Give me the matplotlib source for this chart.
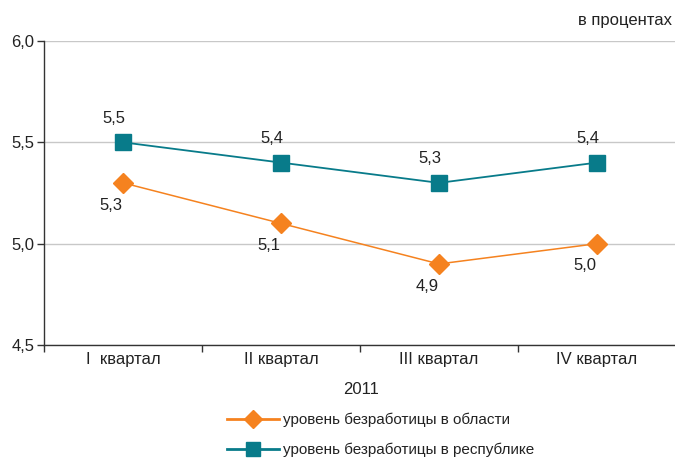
import matplotlib
matplotlib.use("Agg")
import matplotlib.pyplot as plt
from matplotlib.lines import Line2D

plt.rcParams["font.family"] = ["Liberation Sans", "DejaVu Sans"]

categories = ["I  квартал", "II квартал", "III квартал", "IV квартал"]
region = [5.3, 5.1, 4.9, 5.0]
republic = [5.5, 5.4, 5.3, 5.4]
region_name = "уровень безработицы в области"
republic_name = "уровень безработицы в республике"

orange = "#f5821f"
teal = "#087b8a"
text_color = "#222222"

W, H = 675, 459
fig = plt.figure(figsize=(W / 100, H / 100), dpi=100)
ax = fig.add_axes([44 / W, 1 - 345 / H, (676 - 44) / W, (345 - 41) / H])

x = list(range(len(categories)))
ax.plot(x, region, color=orange, lw=1.1, marker="D", ms=10, mec=orange, mfc=orange, zorder=3)
ax.plot(x, republic, color=teal, lw=1.3, marker="s", ms=11, mec=teal, mfc=teal, zorder=3)

fmt = lambda v: f"{v:.1f}".replace(".", ",")
for xi, v in zip(x, republic):
    ax.annotate(fmt(v), (xi, v), xytext=(-6.5, 17.5), textcoords="offset points",
                ha="center", va="center", fontsize=12, color=text_color)
for xi, v in zip(x, region):
    ax.annotate(fmt(v), (xi, v), xytext=(-8.5, -16), textcoords="offset points",
                ha="center", va="center", fontsize=12, color=text_color)

ax.set_xlim(-0.5, len(categories) - 0.5)
ax.set_ylim(4.5, 6.0)
ax.set_yticks([4.5, 5.0, 5.5, 6.0])
ax.set_yticklabels([fmt(v) for v in [4.5, 5.0, 5.5, 6.0]], fontsize=12, color=text_color)
ax.yaxis.grid(True, color="#c8c8c8", lw=1.0)
ax.set_axisbelow(True)

ax.set_xticks(x)
ax.set_xticklabels(categories, fontsize=12, color=text_color)
ax.tick_params(axis="x", length=0, pad=5)
ax.set_xticks([i - 0.5 for i in range(len(categories) + 1)], minor=True)
ax.tick_params(axis="x", which="minor", length=5, color="#333333", width=1)
ax.tick_params(axis="y", length=5, color="#333333", width=1, pad=2)

for s in ["top", "right"]:
    ax.spines[s].set_visible(False)
for s in ["left", "bottom"]:
    ax.spines[s].set_color("#333333")
    ax.spines[s].set_linewidth(1.0)

fig.text(672 / W, 1 - 20 / H, "в процентах", ha="right", va="center",
         fontsize=12, color=text_color)
fig.text(361 / W, 1 - 390 / H, "2011", ha="center", va="center",
         fontsize=12, color=text_color)

handles = [
    Line2D([], [], color=orange, lw=2, marker="D", ms=9, mec=orange, mfc=orange),
    Line2D([], [], color=teal, lw=2, marker="s", ms=10, mec=teal, mfc=teal),
]
leg = fig.legend(handles, [region_name, republic_name], loc="center left",
                 bbox_to_anchor=(213 / W, 1 - 435 / H), frameon=False,
                 prop={"size": 11}, handlelength=3.4, handletextpad=0.3,
                 labelspacing=1.0)
for t in leg.get_texts():
    t.set_color(text_color)

fig.savefig("out.png", dpi=100)
